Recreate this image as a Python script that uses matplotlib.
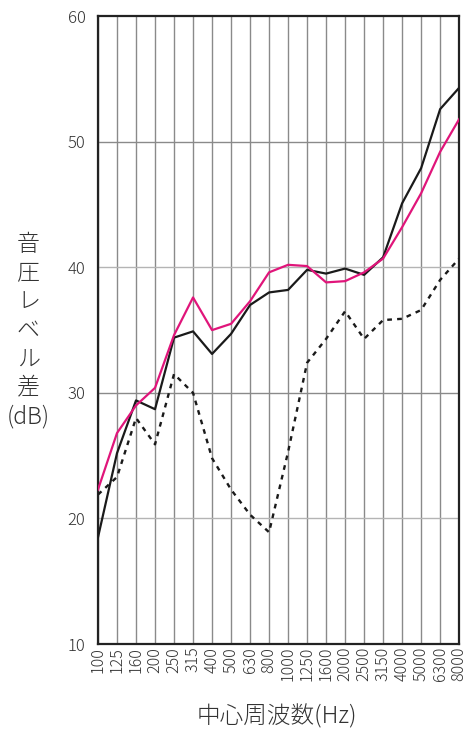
import matplotlib
matplotlib.use("Agg")
import matplotlib.pyplot as plt

plt.rcParams['font.family'] = ['Noto Sans CJK JP', 'DejaVu Sans']

# 1/3 octave band centre frequencies
freqs = ["100", "125", "160", "200", "250", "315", "400", "500", "630", "800",
         "1000", "1250", "1600", "2000", "2500", "3150", "4000", "5000", "6300", "8000"]

# sound level difference (dB) per band
black_solid = [18.5, 25.2, 29.4, 28.7, 34.4, 34.9, 33.1, 34.7, 37.0, 38.0,
               38.2, 39.8, 39.5, 39.9, 39.4, 40.8, 45.1, 47.9, 52.6, 54.3]
magenta = [22.3, 26.8, 29.0, 30.4, 34.6, 37.6, 35.0, 35.5, 37.3, 39.6,
           40.2, 40.1, 38.8, 38.9, 39.6, 40.7, 43.2, 45.9, 49.2, 51.8]
dotted = [21.9, 23.3, 28.0, 25.9, 31.5, 30.0, 24.8, 22.3, 20.3, 18.9,
          25.3, 32.4, 34.3, 36.5, 34.3, 35.8, 35.9, 36.6, 39.0, 40.7]

yticks = [10, 20, 30, 40, 50, 60]

fig = plt.figure(figsize=(4.66, 7.30), dpi=100)
ax = fig.add_axes([0.2103, 0.1178, 0.775, 0.860])

x = list(range(len(freqs)))

# grid
for i in x:
    ax.axvline(i, color="#8a8a8a", lw=1.0, zorder=1)
for y in yticks[1:-1]:
    ax.axhline(y, color="#8a8a8a" if y % 20 else "#b4b4b4", lw=1.0, zorder=1)

ax.plot(x, dotted, color="#1a1a1a", lw=1.7, linestyle=(0, (2, 2.2)), zorder=3)
ax.plot(x, black_solid, color="#1a1a1a", lw=1.6, zorder=4)
ax.plot(x, magenta, color="#e0157a", lw=1.6, zorder=5)

ax.set_xlim(0, len(freqs) - 1)
ax.set_ylim(10, 60)
ax.set_xticks(x)
ax.set_xticklabels(freqs, rotation=90, fontsize=11.5, color="#333333",
                   fontweight="light")
ax.set_yticks(yticks)
ax.set_yticklabels([str(v) for v in yticks], fontsize=12, color="#333333",
                   fontweight="light")
ax.tick_params(axis="x", length=0, pad=2)
ax.tick_params(axis="y", length=0, pad=9)

for s in ax.spines.values():
    s.set_linewidth(1.6)
    s.set_color("#222222")

fig.text(0.061, 0.547, "音\n圧\nレ\nベ\nル\n差\n(dB)", ha="center", va="center",
         fontsize=16.5, color="#333333", linespacing=1.2, fontweight="light")
fig.text(0.595, 0.018, "中心周波数(Hz)", ha="center", va="center",
         fontsize=17, color="#333333", fontweight="light")

fig.savefig("out.png", dpi=100)
